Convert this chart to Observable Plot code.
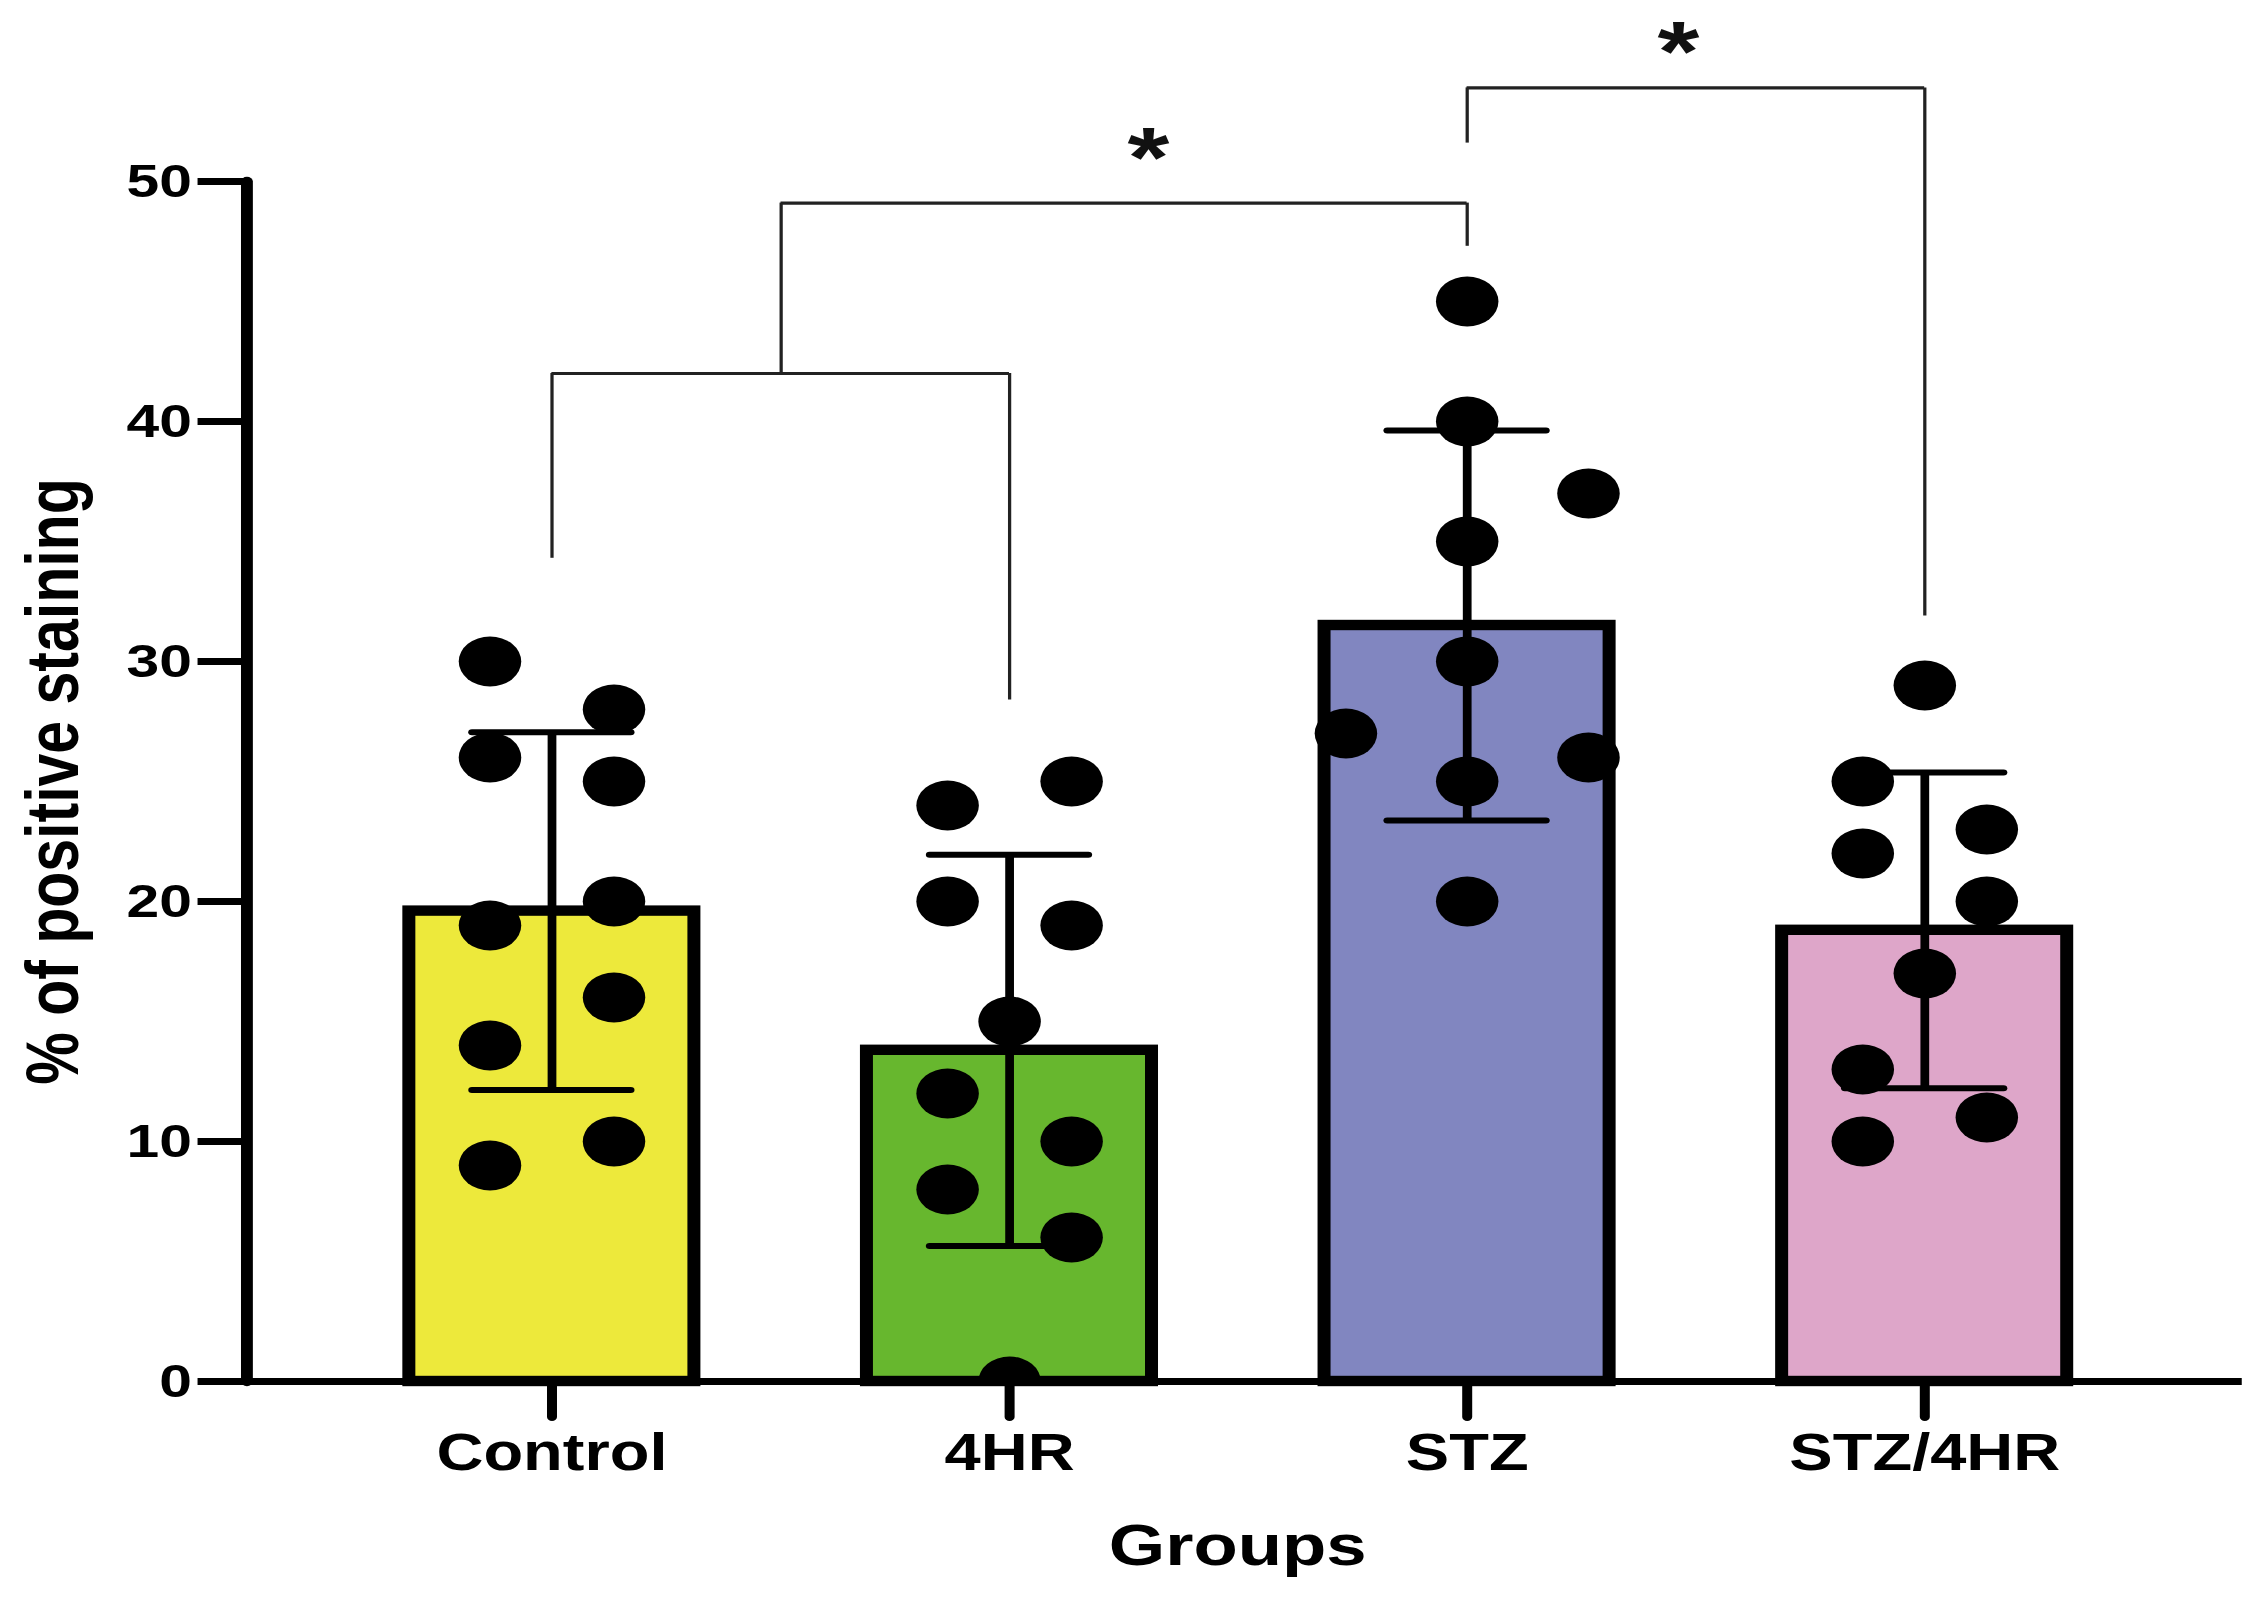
<!DOCTYPE html>
<html>
<head>
<meta charset="utf-8">
<script src="https://cdn.jsdelivr.net/npm/d3@7"></script>
<script src="https://cdn.jsdelivr.net/npm/@observablehq/plot@0.6"></script>
<style>
  html, body { margin: 0; padding: 0; background: #fff; }
  #chart { width: 2268px; height: 1606px; overflow: hidden; }
  #chart svg { display: block; transform: scaleX(1.25028); transform-origin: 0 0; }
</style>
</head>
<body>
<div id="chart"></div>
<script>
// ---- data ----
const groups = ["Control", "4HR", "STZ", "STZ/4HR"];
const means = [19.6, 13.8, 31.5, 18.8];
const sds = [7.45, 8.15, 8.13, 6.58];
const barColors = ["#ede93b", "#67b72e", "#8186c0", "#dea6c9"];

// individual points: group, value, lane (-2..2 = horizontal lane of the scatter)
const dotGroups = [
  "Control","Control","Control","Control","Control","Control","Control","Control","Control","Control",
  "4HR","4HR","4HR","4HR","4HR","4HR","4HR","4HR","4HR","4HR",
  "STZ","STZ","STZ","STZ","STZ","STZ","STZ","STZ","STZ",
  "STZ/4HR","STZ/4HR","STZ/4HR","STZ/4HR","STZ/4HR","STZ/4HR","STZ/4HR","STZ/4HR","STZ/4HR"
];
const dotValues = [
  30, 26, 19, 14, 9, 28, 25, 20, 16, 10,
  24, 20, 12, 8, 15, 0, 25, 19, 10, 6,
  45, 40, 35, 30, 25, 20, 27, 37, 26,
  29, 17, 25, 22, 13, 10, 23, 20, 11
];
const dotLanes = [
  -1, -1, -1, -1, -1, 1, 1, 1, 1, 1,
  -1, -1, -1, -1, 0, 0, 1, 1, 1, 1,
  0, 0, 0, 0, 0, 0, -2, 2, 2,
  0, 0, -1, -1, -1, -1, 1, 1, 1
];

// significance brackets (values on the y scale)
const bracketFrom = ["Control", "Control", "STZ"];
const bracketTo = ["4HR", "STZ", "STZ/4HR"];
const bracketLevels = [42.0, 49.1, 53.9];
const bracketLegGroups = ["Control", "4HR", "STZ", "STZ", "STZ/4HR"];
const bracketLegFrom = [34.3, 28.4, 47.3, 51.6, 31.9];
const bracketLegTo = [42.0, 42.0, 49.1, 53.9, 53.9];
const starGroups = ["4HR", "STZ"];
const starLabels = ["*", "*"];
const starLevels = [51.5, 55.9];

const yTicks = [0, 10, 20, 30, 40, 50];
const yLabel = "% of positive staining";
const xLabel = "Groups";

// ---- layout ----
const W = 1814, H = 1606;
const mL = 197, mR = 32, mT = 181, mB = 225;
const padIn = 0.378, padOut = 0.351;
const step = (W - mL - mR) / (groups.length - padIn + 2 * padOut);
const bw = step * (1 - padIn);
const laneDx = {"-2": -97, "-1": -49.6, "0": 0, "1": 49.6, "2": 97};
const starDx = [111, 169];
const font = "'Liberation Sans', Arial, Helvetica, sans-serif";

const bars = groups.map((g, i) => ({group: g, mean: means[i], sd: sds[i]}));
const dots = dotValues.map((v, i) => ({group: dotGroups[i], value: v, lane: dotLanes[i]}));
const legs = bracketLegGroups.map((g, i) => ({group: g, y1: bracketLegFrom[i], y2: bracketLegTo[i]}));
const spans = bracketFrom.map((g, i) => ({from: g, to: bracketTo[i], y: bracketLevels[i], idx: i}));
const stars = starGroups.map((g, i) => ({group: g, y: starLevels[i], label: starLabels[i], idx: i}));

const capInset = (bw - 127) / 2;

const plot = Plot.plot({
  width: W,
  height: H,
  marginLeft: mL,
  marginRight: mR,
  marginTop: mT,
  marginBottom: mB,
  style: {fontFamily: font, color: "black", background: "white", overflow: "visible"},
  x: {domain: groups, paddingInner: padIn, paddingOuter: padOut},
  y: {domain: [0, 50]},
  color: {domain: groups, range: barColors},
  marks: [
    // bars
    Plot.barY(bars, {x: "group", y: "mean", fill: "group", stroke: "black", strokeWidth: 10.4}),
    // error bars (mean ± SD)
    Plot.ruleX(bars, {x: "group", y1: d => d.mean - d.sd, y2: d => d.mean + d.sd, stroke: "black", strokeWidth: 7}),
    Plot.tickY(bars, {x: "group", y: d => d.mean + d.sd, stroke: "black", strokeWidth: 6, strokeLinecap: "round",
      insetLeft: capInset, insetRight: capInset}),
    Plot.tickY(bars, {x: "group", y: d => d.mean - d.sd, stroke: "black", strokeWidth: 6, strokeLinecap: "round",
      insetLeft: capInset, insetRight: capInset}),
    // individual points
    ...[-2, -1, 0, 1, 2].map(l => Plot.dot(dots.filter(d => d.lane === l), {
      x: "group", y: "value", r: 25, fill: "black", stroke: "none", dx: laneDx[String(l)], clip: true
    })),
    // axes
    Plot.ruleY([0], {stroke: "black", strokeWidth: 7, insetRight: -11}),
    Plot.frame({anchor: "left", stroke: "black", strokeWidth: 9.5, strokeLinecap: "round"}),
    Plot.axisY({ticks: yTicks, tickSize: 39, tickPadding: 5, fontSize: 47, fontWeight: "bold",
      strokeWidth: 7, label: null, tickFormat: d => String(d)}),
    Plot.axisX({tickSize: 36, tickPadding: 16, fontSize: 52, fontWeight: "bold",
      strokeWidth: 8, strokeLinecap: "round", label: null}),
    Plot.text([yLabel], {frameAnchor: "left", textAnchor: "middle", rotate: -90, dx: -154, fontSize: 59,
      fontWeight: "bold", lineAnchor: "middle", fill: "black"}),
    Plot.text([xLabel], {frameAnchor: "bottom", textAnchor: "middle", lineAnchor: "top", dy: 142, fontSize: 58,
      fontWeight: "bold", fill: "black"}),
    // brackets: horizontal spans (band start of x1 to band end of x2, inset to band centres)
    Plot.ruleY(spans.filter(d => d.idx !== 1), {x1: "from", x2: "to", y: "y", stroke: "#222", strokeWidth: 3.2,
      insetLeft: bw / 2, insetRight: bw / 2}),
    Plot.ruleY(spans.filter(d => d.idx === 1), {x1: "from", x2: "to", y: "y", stroke: "#222", strokeWidth: 3.2,
      insetLeft: bw / 2 + step / 2, insetRight: bw / 2}),
    // brackets: legs
    Plot.ruleX(legs, {x: "group", y1: "y1", y2: "y2", stroke: "#222", strokeWidth: 2.6}),
    Plot.ruleX(spans.filter(d => d.idx === 0), {x: "from", y1: "y", y2: () => bracketLevels[1], dx: step / 2,
      stroke: "#222", strokeWidth: 2.6}),
    // stars
    ...stars.map(s => Plot.text([s], {x: "group", y: "y", text: "label", dx: starDx[s.idx], dy: 14,
      fontSize: 86, fontWeight: "bold", fill: "#111", lineAnchor: "middle"}))
  ]
});

document.getElementById("chart").appendChild(plot);
</script>
</body>
</html>
